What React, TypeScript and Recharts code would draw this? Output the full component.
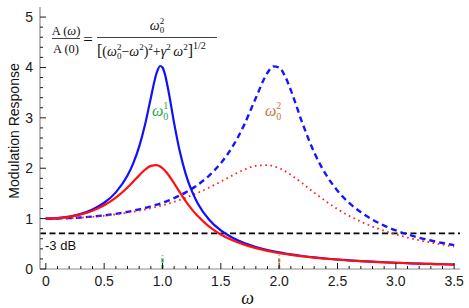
import React from 'react';
import { LineChart, Line, XAxis, YAxis, ReferenceLine } from 'recharts';

const omega = [0, 0.1, 0.2, 0.3, 0.4, 0.5, 0.6, 0.7, 0.75, 0.8, 0.85, 0.9, 0.95, 0.98, 1.0, 1.02, 1.05, 1.1, 1.15, 1.2, 1.25, 1.3, 1.4, 1.5, 1.6, 1.7, 1.8, 1.9, 1.95, 2.0, 2.05, 2.1, 2.2, 2.3, 2.4, 2.5, 2.6, 2.7, 2.8, 2.9, 3.0, 3.1, 3.2, 3.3, 3.4, 3.5];

// omega0 = 1, narrow resonance (blue solid)
const blueSolid = [1.0, 1.01, 1.04, 1.095, 1.182, 1.315, 1.521, 1.855, 2.101, 2.428, 2.861, 3.396, 3.895, 4.029, 4.0, 3.873, 3.549, 2.89, 2.315, 1.878, 1.554, 1.311, 0.979, 0.766, 0.621, 0.516, 0.438, 0.377, 0.352, 0.329, 0.308, 0.29, 0.258, 0.231, 0.208, 0.189, 0.173, 0.158, 0.145, 0.134, 0.124, 0.116, 0.108, 0.101, 0.094, 0.089];
// omega0 = 1, damped (red solid)
const redSolid = [1.0, 1.009, 1.036, 1.084, 1.158, 1.265, 1.415, 1.617, 1.735, 1.858, 1.97, 2.047, 2.062, 2.034, 2.0, 1.955, 1.87, 1.699, 1.517, 1.344, 1.189, 1.055, 0.842, 0.686, 0.57, 0.483, 0.414, 0.36, 0.337, 0.316, 0.297, 0.28, 0.25, 0.225, 0.204, 0.185, 0.169, 0.155, 0.143, 0.132, 0.123, 0.114, 0.107, 0.1, 0.094, 0.088];
// omega0 = 2, narrow resonance (blue dashed)
const blueDashed = [1.0, 1.002, 1.01, 1.022, 1.04, 1.064, 1.095, 1.134, 1.157, 1.182, 1.21, 1.242, 1.276, 1.299, 1.315, 1.332, 1.358, 1.407, 1.461, 1.521, 1.59, 1.667, 1.855, 2.101, 2.428, 2.861, 3.396, 3.895, 4.021, 4.0, 3.828, 3.549, 2.89, 2.315, 1.878, 1.554, 1.311, 1.125, 0.979, 0.862, 0.766, 0.687, 0.621, 0.565, 0.516, 0.474];
// omega0 = 2, damped (red dotted)
const redDotted = [1.0, 1.002, 1.009, 1.02, 1.036, 1.057, 1.084, 1.118, 1.137, 1.158, 1.181, 1.207, 1.235, 1.253, 1.265, 1.278, 1.298, 1.334, 1.373, 1.415, 1.46, 1.509, 1.617, 1.735, 1.858, 1.97, 2.047, 2.062, 2.041, 2.0, 1.942, 1.869, 1.699, 1.517, 1.344, 1.189, 1.055, 0.94, 0.842, 0.758, 0.686, 0.624, 0.57, 0.524, 0.483, 0.446];

const xTicks = [0, 0.1, 0.2, 0.3, 0.4, 0.5, 0.6, 0.7, 0.8, 0.9, 1.0, 1.1, 1.2, 1.3, 1.4, 1.5, 1.6, 1.7, 1.8, 1.9, 2.0, 2.1, 2.2, 2.3, 2.4, 2.5, 2.6, 2.7, 2.8, 2.9, 3.0, 3.1, 3.2, 3.3, 3.4, 3.5];
const yTicks = [0, 0.2, 0.4, 0.6, 0.8, 1, 1.2, 1.4, 1.6, 1.8, 2, 2.2, 2.4, 2.6, 2.8, 3, 3.2, 3.4, 3.6, 3.8, 4, 4.2, 4.4, 4.6, 4.8, 5];
const minus3dB = 0.707;
const markHeight = 0.27;

const rows = omega.map((w, i) => ({ w, a: blueSolid[i], b: redSolid[i], c: blueDashed[i], d: redDotted[i] }));

const SANS = "'Liberation Sans', Arial, sans-serif";
const SERIF = "'Liberation Serif', 'Times New Roman', serif";
const TICK = '#1a1a1a';
const FRAME = '#8c8c8c';
const GREEN = '#22a64a';
const ORANGE = '#c8733a';

const isMajorX = (v: number) => Math.abs(v * 2 - Math.round(v * 2)) < 1e-6;
const isMajorY = (v: number) => Math.abs(v - Math.round(v)) < 1e-6;
const fmtX = (v: number) => (v === 0 ? '0' : v.toFixed(1));

const BottomTick = (p: any) => {
  const v = p.payload.value;
  const major = isMajorX(v);
  return (
    <g>
      <line x1={p.x} y1={p.y} x2={p.x} y2={p.y - (major ? 6 : 3)} stroke={TICK} strokeWidth={1} />
      {major && (
        <text x={p.x} y={p.y + 17} textAnchor="middle" fontSize={14} fontFamily={SANS} fill={TICK}>
          {fmtX(v)}
        </text>
      )}
    </g>
  );
};
const TopTick = (p: any) => {
  const major = isMajorX(p.payload.value);
  return <line x1={p.x} y1={p.y} x2={p.x} y2={p.y + (major ? 6 : 3)} stroke={TICK} strokeWidth={1} />;
};
const LeftTick = (p: any) => {
  const v = p.payload.value;
  const major = isMajorY(v);
  return (
    <g>
      <line x1={p.x} y1={p.y} x2={p.x + (major ? 6 : 3)} y2={p.y} stroke={TICK} strokeWidth={1} />
      {major && (
        <text x={p.x - 7} y={p.y + 5} textAnchor="end" fontSize={14} fontFamily={SANS} fill={TICK}>
          {String(Math.round(v))}
        </text>
      )}
    </g>
  );
};
const RightTick = (p: any) => {
  const major = isMajorY(p.payload.value);
  return <line x1={p.x} y1={p.y} x2={p.x - (major ? 6 : 3)} y2={p.y} stroke={TICK} strokeWidth={1} />;
};

export default function App() {
  const ax = { xAxisId: 'b', yAxisId: 'l' };
  return (
    <div style={{ position: 'absolute', left: 0, top: 0, width: 469, height: 308, background: '#fff' }}>
      <LineChart width={469} height={308} data={rows} margin={{ top: 7, right: 9, bottom: 0, left: 0 }}>
        <XAxis xAxisId="b" dataKey="w" type="number" domain={[-0.05, 3.55]} allowDataOverflow ticks={xTicks} interval={0}
          orientation="bottom" height={39} tickLine={false} tickSize={0} tickMargin={0} tick={BottomTick}
          axisLine={{ stroke: FRAME, strokeWidth: 1.2 }} />
        <XAxis xAxisId="t" dataKey="w" type="number" domain={[-0.05, 3.55]} allowDataOverflow ticks={xTicks} interval={0}
          orientation="top" height={0} tickLine={false} tickSize={0} tickMargin={0} tick={TopTick}
          axisLine={{ stroke: FRAME, strokeWidth: 1.2 }} />
        <YAxis yAxisId="l" type="number" domain={[0, 5.2]} allowDataOverflow ticks={yTicks} interval={0}
          orientation="left" width={40} tickLine={false} tickSize={0} tickMargin={0} tick={LeftTick}
          axisLine={{ stroke: FRAME, strokeWidth: 1.2 }} />
        <YAxis yAxisId="r" type="number" domain={[0, 5.2]} allowDataOverflow ticks={yTicks} interval={0}
          orientation="right" width={0} tickLine={false} tickSize={0} tickMargin={0} tick={RightTick}
          axisLine={{ stroke: FRAME, strokeWidth: 1.2 }} />
        <ReferenceLine {...ax} y={minus3dB} stroke="#000" strokeWidth={1.6} strokeDasharray="6 3.5" />
        <ReferenceLine {...ax} segment={[{ x: 1, y: 0 }, { x: 1, y: markHeight }]} stroke={GREEN} strokeWidth={2.2} strokeDasharray="4 2.5" />
        <ReferenceLine {...ax} segment={[{ x: 2, y: 0 }, { x: 2, y: markHeight }]} stroke={ORANGE} strokeWidth={2.2} strokeDasharray="4 2.5" />
        <Line {...ax} dataKey="c" type="monotone" stroke="#1515ff" strokeWidth={2.4} strokeDasharray="6 4" dot={false} isAnimationActive={false} />
        <Line {...ax} dataKey="d" type="monotone" stroke="#ff2020" strokeWidth={1.8} strokeDasharray="1.6 3.6" dot={false} isAnimationActive={false} />
        <Line {...ax} dataKey="a" type="monotone" stroke="#1010ff" strokeWidth={2.2} dot={false} isAnimationActive={false} />
        <Line {...ax} dataKey="b" type="monotone" stroke="#ff1010" strokeWidth={2.2} dot={false} isAnimationActive={false} />
      </LineChart>
      <svg width={469} height={308} style={{ position: 'absolute', left: 0, top: 0, pointerEvents: 'none' }}>
        <g fontFamily={SERIF} fill="#111">
          <text x={66} y={35} fontSize={12.5} textAnchor="middle">A (<tspan fontStyle="italic">ω</tspan>)</text>
          <line x1={52} y1={38.5} x2={80} y2={38.5} stroke="#111" strokeWidth={0.8} />
          <text x={66} y={53} fontSize={12.5} textAnchor="middle">A (0)</text>
          <text x={88} y={44.5} fontSize={17} textAnchor="middle">=</text>
          <text x={157} y={30} fontSize={14} textAnchor="middle">
            <tspan fontStyle="italic">ω</tspan>
            <tspan fontSize={9} dy={3}>0</tspan>
            <tspan fontSize={9} dx={-4.5} dy={-9.5}>2</tspan>
          </text>
          <line x1={97} y1={37.5} x2={217} y2={37.5} stroke="#111" strokeWidth={0.8} />
          <text x={97} y={56} fontSize={14}>
            <tspan fontSize={16}>[</tspan>
            <tspan>(</tspan>
            <tspan fontStyle="italic">ω</tspan>
            <tspan fontSize={9} dy={3}>0</tspan>
            <tspan fontSize={9} dx={-4.5} dy={-9.5}>2</tspan>
            <tspan dy={6.5}>−</tspan>
            <tspan fontStyle="italic">ω</tspan>
            <tspan fontSize={9} dy={-6.5}>2</tspan>
            <tspan dy={6.5}>)</tspan>
            <tspan fontSize={9} dy={-6.5}>2</tspan>
            <tspan dy={6.5}>+</tspan>
            <tspan fontStyle="italic">γ</tspan>
            <tspan fontSize={9} dy={-6.5}>2</tspan>
            <tspan dy={6.5} dx={2.5} fontStyle="italic">ω</tspan>
            <tspan fontSize={9} dy={-6.5}>2</tspan>
            <tspan fontSize={16} dy={6.5}>]</tspan>
            <tspan fontSize={10} dy={-7.5}>1/2</tspan>
          </text>
        </g>
        <text x={152} y={116} fontSize={16} fontFamily={SERIF} fill={GREEN}>
          <tspan fontStyle="italic">ω</tspan>
          <tspan fontSize={10} dy={4}>0</tspan>
          <tspan fontSize={10} dx={-5} dy={-11}>1</tspan>
        </text>
        <text x={265} y={116} fontSize={16} fontFamily={SERIF} fill={ORANGE}>
          <tspan fontStyle="italic">ω</tspan>
          <tspan fontSize={10} dy={4}>0</tspan>
          <tspan fontSize={10} dx={-5} dy={-11}>2</tspan>
        </text>
        <text x={45} y={249.5} fontSize={13} fontFamily={SANS} fill="#111">-3 dB</text>
        <text transform="translate(18.5,131) rotate(-90)" x={0} y={0} textAnchor="middle" fontSize={14} fontFamily={SANS} fill="#111">
          Modulation Response
        </text>
        <text x={247.5} y={303.5} fontSize={18} fontFamily={SERIF} fontStyle="italic" textAnchor="middle" fill="#111">ω</text>
      </svg>
    </div>
  );
}
